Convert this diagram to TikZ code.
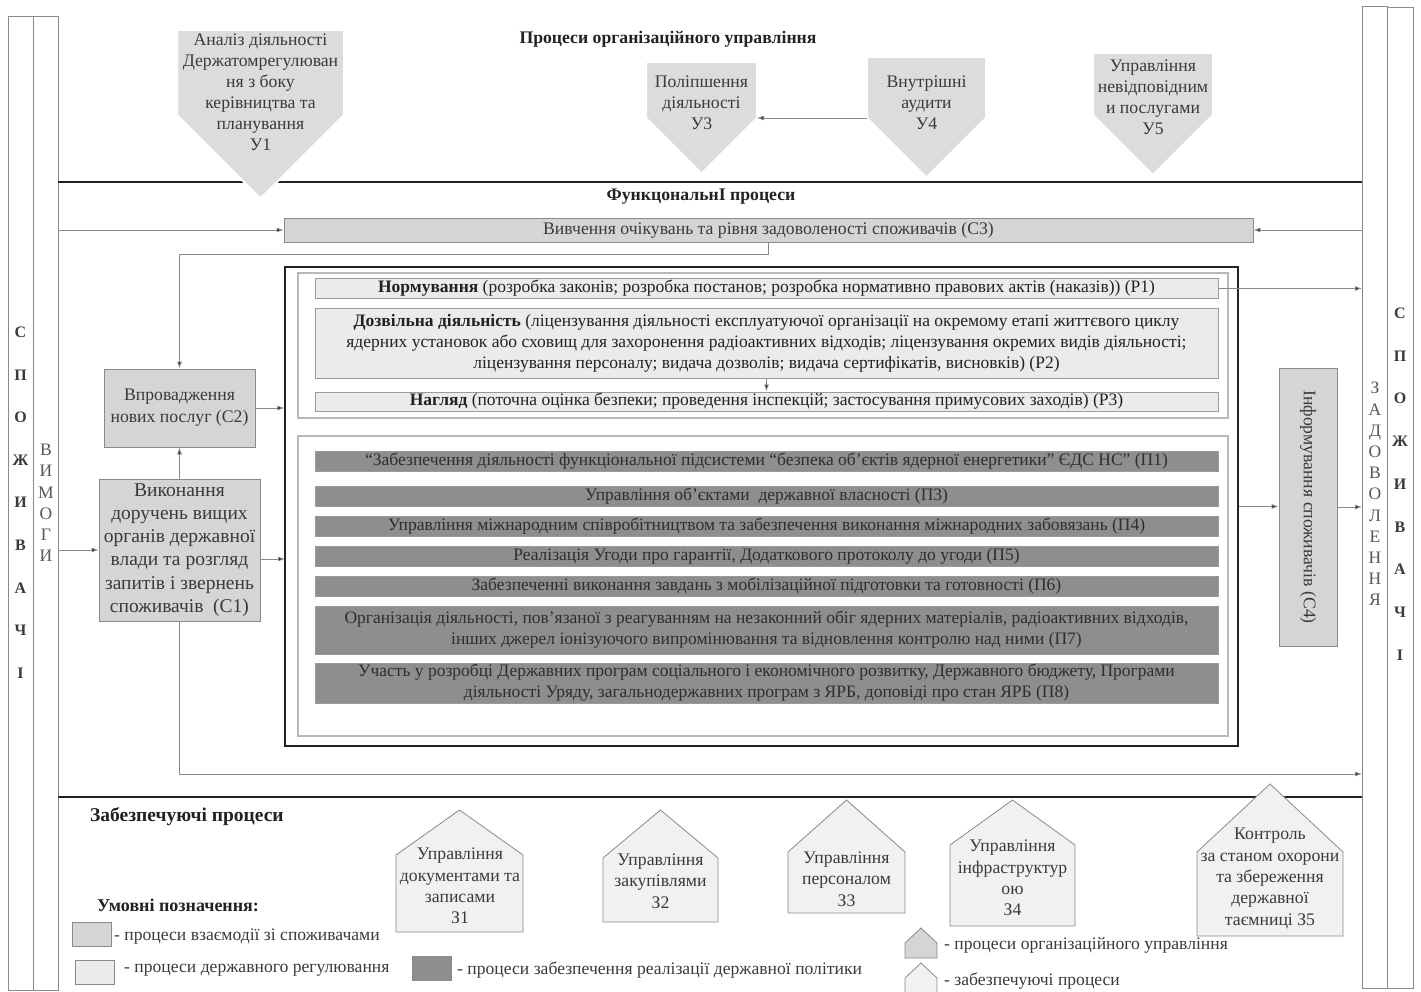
\documentclass[tikz,border=0pt]{standalone}
\usepackage{fontspec}
\setmainfont{Liberation Serif}
\usetikzlibrary{arrows.meta}
\definecolor{cgray}{HTML}{D5D5D7}
\definecolor{rlight}{HTML}{EBEBEB}
\definecolor{pdark}{HTML}{8E8E90}
\definecolor{ugray}{HTML}{DCDCDE}
\definecolor{hlight}{HTML}{F1F1F1}
\definecolor{bgray}{HTML}{8A8A8A}
\definecolor{lgray}{HTML}{9A9A9A}
\definecolor{txt}{HTML}{3A3A3A}
\definecolor{dtxt}{HTML}{222222}
\definecolor{ptxt}{HTML}{2E2E2E}
\newcommand\myfs[2]{\fontsize{#1}{#2}\selectfont}
\begin{document}
\begin{tikzpicture}[x=1pt,y=-1pt,
  conn/.style={draw=bgray, line width=0.8pt, -{Latex[length=7pt,width=5pt,fill=dtxt]}},
  sep/.style={draw=dtxt, line width=1.6pt},
  col/.style={draw=bgray, line width=0.8pt},
  cbox/.style={draw=bgray, fill=cgray, line width=0.8pt, align=center, inner sep=0pt, text=txt, font=\myfs{17.7}{22}},
  regbar/.style={draw=lgray, fill=rlight, line width=1pt, align=center, inner sep=0pt, text=dtxt, minimum width=903pt, font=\myfs{17.5}{21}},
  polbar/.style={draw=lgray, fill=pdark, line width=1pt, align=center, inner sep=0pt, text=ptxt, minimum width=903pt, font=\myfs{17.5}{21}},
  upent/.style={fill=ugray, draw=white, line width=2pt},
  utext/.style={align=center, text=txt, font=\myfs{17.7}{21}, inner sep=0pt},
  house/.style={fill=hlight, draw=bgray, line width=0.8pt},
  htext/.style={align=center, text=txt, font=\myfs{17.7}{21.3}, inner sep=0pt},
  title/.style={font=\bfseries\myfs{17.7}{20}, text=dtxt, inner sep=0pt},
  legtext/.style={font=\myfs{17.6}{20}, text=txt, inner sep=0pt, anchor=west},
  vletters/.style={align=center, inner sep=0pt, text=txt}
]
\useasboundingbox (0,0) rectangle (1421,992);
\fill[white] (0,0) rectangle (1421,992);

% ---- side columns
\draw[col] (8,16) rectangle (33,990);
\draw[col] (33,16) rectangle (58,990);
\draw[col] (1362,6) rectangle (1387,988);
\draw[col] (1387,7) rectangle (1413,988);
\node[vletters, font=\bfseries\myfs{16}{42.6}] (lcons) at (20.5,502.5) {С\\П\\О\\Ж\\И\\В\\А\\Ч\\І};
\node[vletters, font=\myfs{17.5}{21.2}, text=txt!85] (req) at (46,503) {В\\И\\М\\О\\Г\\И};
\node[vletters, font=\bfseries\myfs{16}{42.75}] (rcons) at (1400,484) {С\\П\\О\\Ж\\И\\В\\А\\Ч\\І};
\node[vletters, font=\myfs{17.5}{21.2}, text=txt!85] (sat) at (1375,494) {З\\А\\Д\\О\\В\\О\\Л\\Е\\Н\\Н\\Я};

% ---- separators
\coordinate (sepTL) at (58,182);
\coordinate (sepTR) at (1362,182);
\coordinate (sepBL) at (58,797);
\coordinate (sepBR) at (1362,797);
\draw[sep] (sepTL) -- (sepTR);
\draw[sep] (sepBL) -- (sepBR);

% ---- titles
\node[title] (torg) at (668,39) {Процеси організаційного управління};
\node[title] (tfun) at (701,197) {ФункцональнІ процеси};
\node[title, anchor=west, font=\bfseries\myfs{19.5}{22}] (tsup) at (90,817) {Забезпечуючі процеси};
\node[title, anchor=west, font=\bfseries\myfs{18}{20}] (tleg) at (97,905) {Умовні позначення:};

% ---- organisational management pentagons
\path[upent] (177,30) -- (344,30) -- (344,115) -- (260.5,198.5) -- (177,115) -- cycle;
\node[utext] (u1) at (260.5,92.5) {Аналіз діяльності\\Держатомрегулюван\\ня з боку\\керівництва та\\планування\\У1};
\path[upent] (646,62) -- (757,62) -- (757,118) -- (701.5,173.5) -- (646,118) -- cycle;
\node[utext] (u3) at (701.5,103) {Поліпшення\\діяльності\\У3};
\path[upent] (867,57) -- (986,57) -- (986,118) -- (926.5,177.5) -- (867,118) -- cycle;
\node[utext] (u4) at (926.5,102.5) {Внутрішні\\аудити\\У4};
\path[upent] (1093,53) -- (1213,53) -- (1213,115) -- (1153,175) -- (1093,115) -- cycle;
\node[utext] (u5) at (1153,97.5) {Управління\\невідповідним\\и послугами\\У5};
\coordinate (u4l) at (867,118);
\coordinate (u3r) at (757,118);
\draw[conn] (u4l) -- (u3r);

% ---- customer processes
\node[cbox, minimum width=969pt, minimum height=24pt] (c3) at (768.5,230) {Вивчення очікувань та рівня задоволеності споживачів (С3)};
\node[cbox, minimum width=151pt, minimum height=78pt] (c2) at (179.5,408) {Впровадження\\нових послуг (С2)};
\node[cbox, minimum width=161pt, minimum height=142pt, font=\myfs{19.5}{23.3}] (c1) at (179.5,550) {Виконання\\доручень вищих\\органів державної\\влади та розгляд\\запитів і звернень\\споживачів\ \ (С1)};
\node[cbox, minimum width=278pt, minimum height=58pt, rotate=-90] (c4) at (1308,507) {Інформування споживачів (С4)};

% ---- main frame and inner frames
\node[draw=dtxt, line width=1.3pt, minimum width=953pt, minimum height=479pt, inner sep=0pt] (outer) at (761.5,506.5) {};
\node[draw=lgray!70, line width=1.8pt, minimum width=930pt, minimum height=145pt, inner sep=0pt] (regframe) at (763,345.5) {};
\node[draw=lgray!70, line width=1.8pt, minimum width=930pt, minimum height=300pt, inner sep=0pt] (polframe) at (763,586) {};

% ---- regulation bars
\node[regbar, minimum height=19pt] (p1) at (766.5,288.5) {\textbf{Нормування} (розробка законів; розробка постанов; розробка нормативно правових актів (наказів)) (Р1)};
\node[regbar, minimum height=70pt] (p2) at (766.5,343) {\textbf{Дозвільна діяльність} (ліцензування діяльності експлуатуючої організації на окремому етапі життєвого циклу\\ядерних установок або сховищ для захоронення радіоактивних відходів; ліцензування окремих видів діяльності;\\ліцензування персоналу; видача дозволів; видача сертифікатів, висновків) (Р2)};
\node[regbar, minimum height=19pt] (p3) at (766.5,401.5) {\textbf{Нагляд} (поточна оцінка безпеки; проведення інспекцій; застосування примусових заходів) (Р3)};

% ---- policy bars
\node[polbar, minimum height=20pt] (pp1) at (766.5,461) {“Забезпечення діяльності функціональної підсистеми “безпека об’єктів ядерної енергетики” ЄДС НС” (П1)};
\node[polbar, minimum height=20pt] (pp3) at (766.5,496) {Управління об’єктами\ \ державної власності (П3)};
\node[polbar, minimum height=20pt] (pp4) at (766.5,526) {Управління міжнародним співробітництвом та забезпечення виконання міжнародних забовязань (П4)};
\node[polbar, minimum height=20pt] (pp5) at (766.5,556) {Реалізація Угоди про гарантії, Додаткового протоколу до угоди (П5)};
\node[polbar, minimum height=20pt] (pp6) at (766.5,586) {Забезпеченні виконання завдань з мобілізаційної підготовки та готовності (П6)};
\node[polbar, minimum height=48pt] (pp7) at (766.5,630) {Організація діяльності, пов’язаної з реагуванням на незаконний обіг ядерних матеріалів, радіоактивних відходів,\\інших джерел іонізуючого випромінювання та відновлення контролю над ними (П7)};
\node[polbar, minimum height=40pt] (pp8) at (766.5,683) {Участь у розробці Державних програм соціального і економічного розвитку, Державного бюджету, Програми\\діяльності Уряду, загальнодержавних програм з ЯРБ, доповіді про стан ЯРБ (П8)};

% ---- connectors
\coordinate (Lc3) at (58,230);
\coordinate (Rc3) at (1362,230);
\coordinate (fbR) at (768.5,254);
\coordinate (fbL) at (179.5,254);
\coordinate (Lc1) at (58,550);
\coordinate (c1o) at (260,559);
\coordinate (o1) at (285,559);
\coordinate (Rp1) at (1362,288.5);
\coordinate (Rc4) at (1362,507);
\coordinate (bcorner) at (179.5,774);
\coordinate (Rbot) at (1362,774);
\draw[conn] (Lc3) -- (c3.west);
\draw[conn] (Rc3) -- (c3.east);
\draw[conn] (c3.south) -- (fbR) -- (fbL) -- (c2.north);
\draw[conn] (c1.north) -- (c2.south);
\draw[conn] (Lc1) -- (c1.west);
\draw[conn] (c2.east) -- (outer.west |- c2.east);
\draw[conn] (c1o) -- (o1);
\draw[conn] (c1.south) -- (bcorner) -- (Rbot);
\draw[conn] (p2.south) -- (p3.north);
\draw[conn] (p1.east) -- (Rp1);
\draw[conn] (outer.east) -- (c4.south |- outer.east);
\draw[conn] (c4.north |- Rc4) -- (Rc4);

% ---- supporting processes (houses)
\path[house] (396,855) -- (459.5,810) -- (523,855) -- (523,932) -- (396,932) -- cycle;
\node[htext] (z1) at (460,886) {Управління\\документами та\\записами\\З1};
\path[house] (603,858) -- (660.5,810) -- (718,858) -- (718,922) -- (603,922) -- cycle;
\node[htext] (z2) at (660.5,881) {Управління\\закупівлями\\З2};
\path[house] (788,852) -- (846.5,800) -- (905,852) -- (905,913) -- (788,913) -- cycle;
\node[htext] (z3) at (846.5,879) {Управління\\персоналом\\З3};
\path[house] (950,845) -- (1012.5,800) -- (1075,845) -- (1075,926) -- (950,926) -- cycle;
\node[htext] (z4) at (1012.5,878) {Управління\\інфраструктур\\ою\\З4};
\path[house] (1197,852) -- (1270,784) -- (1343,852) -- (1343,936) -- (1197,936) -- cycle;
\node[htext] (z5) at (1270,878.5) {Контроль\\за станом охорони\\та збереження\\державної\\таємниці З5};

% ---- legend
\node[draw=bgray, fill=cgray, minimum width=39pt, minimum height=24pt, inner sep=0pt] (lg1) at (91.5,934) {};
\node[legtext] (lt1) at (114,937) {- процеси взаємодії зі споживачами};
\node[draw=bgray, fill=rlight, minimum width=39pt, minimum height=24pt, inner sep=0pt] (lg2) at (94.5,972) {};
\node[legtext] (lt2) at (124,970) {- процеси державного регулювання};
\node[draw=bgray, fill=pdark, minimum width=39pt, minimum height=24pt, inner sep=0pt] (lg3) at (431.5,968) {};
\node[legtext] (lt3) at (457,970) {- процеси забезпечення реалізації державної політики};
\path[house, fill=cgray] (905,943) -- (921,928) -- (937,943) -- (937,958) -- (905,958) -- cycle;
\node[legtext] (lt4) at (944,945) {- процеси організаційного управління};
\path[house] (905,978) -- (921,963) -- (937,978) -- (937,996) -- (905,996) -- cycle;
\node[legtext] (lt5) at (944,981) {- забезпечуючі процеси};
\end{tikzpicture}
\end{document}
